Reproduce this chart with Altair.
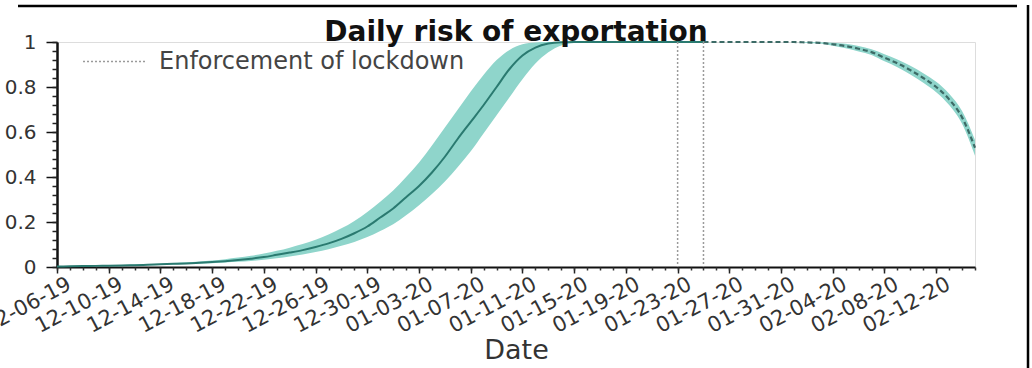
import altair as alt
import pandas as pd

# ---- data ----
dates = [d.strftime("%Y-%m-%d") for d in pd.date_range("2019-12-06", "2020-02-15", freq="D")]

mean = [0.002, 0.003, 0.004, 0.005, 0.006, 0.007, 0.008, 0.010, 0.012, 0.014,
        0.016, 0.019, 0.022, 0.026, 0.031, 0.037, 0.044, 0.054, 0.064, 0.075,
        0.089, 0.105, 0.125, 0.150, 0.180, 0.22, 0.26, 0.31, 0.36, 0.42,
        0.49, 0.57, 0.645, 0.72, 0.80, 0.88, 0.94, 0.975, 0.993, 0.999,
        1.0, 1.0, 1.0, 1.0, 1.0, 1.0, 1.0, 1.0, 1.0, 1.0,
        1.0, 1.0, 1.0, 1.0, 1.0, 1.0, 1.0, 1.0,
        0.998, 0.996, 0.99, 0.982, 0.97, 0.955, 0.93, 0.905, 0.875, 0.84,
        0.80, 0.745, 0.665, 0.53]

upper = [0.003, 0.004, 0.005, 0.006, 0.008, 0.009, 0.011, 0.013, 0.015, 0.018,
         0.021, 0.025, 0.029, 0.035, 0.042, 0.050, 0.060, 0.072, 0.086, 0.102,
         0.121, 0.145, 0.172, 0.205, 0.245, 0.29, 0.34, 0.40, 0.465, 0.54,
         0.62, 0.70, 0.78, 0.855, 0.92, 0.965, 0.99, 0.998, 1.0, 1.0,
         1.0, 1.0, 1.0, 1.0, 1.0, 1.0, 1.0, 1.0, 1.0, 1.0,
         1.0, 1.0, 1.0, 1.0, 1.0, 1.0, 1.0, 1.0,
         1.0, 0.999, 0.997, 0.992, 0.982, 0.968, 0.946, 0.922, 0.894, 0.861,
         0.823, 0.77, 0.693, 0.565]

lower = [0.001, 0.002, 0.003, 0.004, 0.005, 0.006, 0.007, 0.008, 0.009, 0.011,
         0.013, 0.015, 0.017, 0.020, 0.023, 0.027, 0.032, 0.039, 0.047, 0.056,
         0.067, 0.079, 0.094, 0.111, 0.133, 0.16, 0.19, 0.23, 0.275, 0.325,
         0.38, 0.445, 0.515, 0.595, 0.675, 0.755, 0.835, 0.905, 0.955, 0.985,
         0.996, 0.999, 1.0, 1.0, 1.0, 1.0, 1.0, 1.0, 1.0, 1.0,
         1.0, 1.0, 1.0, 1.0, 1.0, 1.0, 1.0, 1.0,
         0.996, 0.993, 0.983, 0.972, 0.958, 0.942, 0.914, 0.888, 0.856, 0.819,
         0.777, 0.72, 0.637, 0.495]

lockdown_dates = ["2020-01-23", "2020-01-25"]
lockdown_label = "Enforcement of lockdown"
projection_start = 50  # index of 2020-01-25
major_ticks = dates[::4]
y_major = [0, 0.2, 0.4, 0.6, 0.8, 1]
y_minor = [round(i * 0.04, 2) for i in range(26)]

FONT = "DejaVu Sans"


def ms(d):
    return int(pd.Timestamp(d, tz="UTC").timestamp() * 1000)


df = pd.DataFrame({"date": dates, "mean": mean, "lower": lower,
                   "upper": upper, "idx": list(range(len(dates)))})
lock_df = pd.DataFrame({"date": lockdown_dates, "label": [lockdown_label] * len(lockdown_dates)})

x_scale = alt.Scale(type="utc", domain=[ms(dates[0]), ms(dates[-1])])
y_scale = alt.Scale(domain=[0, 1])

x_major_axis = alt.Axis(values=[ms(d) for d in major_ticks],
                        labelExpr="utcFormat(datum.value, '%m-%d-%y')",
                        labelAngle=-28, labelAlign="right", labelBaseline="top",
                        labelFont=FONT, labelFontSize=21, labelColor="#333", labelOffset=7,
                        tickSize=6, tickColor="#222", tickWidth=1.5,
                        domainColor="#111", domainWidth=2, grid=False,
                        title="Date", titleFont=FONT, titleFontSize=27, titleFontWeight="normal",
                        titleColor="#333", titlePadding=1, labelPadding=0, orient="bottom",
                        labelOverlap=False, labelBound=False)
x_minor_axis = alt.Axis(values=[ms(d) for d in dates], labels=False, domain=False, grid=False,
                        tickSize=3, tickColor="#333", tickWidth=1.5, title=None, orient="bottom")
y_major_axis = alt.Axis(values=y_major, format="~g", labelFont=FONT, labelFontSize=20,
                        labelColor="#333", tickSize=11, tickColor="#111", tickWidth=1.5,
                        domainColor="#111", domainWidth=2.5, grid=False, title=None,
                        labelPadding=10, orient="left")
y_minor_axis = alt.Axis(values=y_minor, labels=False, domain=False, grid=False,
                        tickSize=5, tickColor="#222", tickWidth=1.5, title=None, orient="left")

band = alt.Chart(df).mark_area(color="#8fd5cb", opacity=1, interpolate="monotone").encode(
    x=alt.X("date:T", scale=x_scale, axis=x_major_axis),
    y=alt.Y("lower:Q", scale=y_scale, axis=y_major_axis),
    y2="upper:Q",
)

observed = alt.Chart(df).transform_filter(alt.datum.idx <= projection_start).mark_line(
    color="#2a7a70", strokeWidth=2, interpolate="monotone").encode(
    x=alt.X("date:T", scale=x_scale, axis=x_minor_axis),
    y=alt.Y("mean:Q", scale=y_scale, axis=y_minor_axis),
)

projected = alt.Chart(df).transform_filter(alt.datum.idx >= projection_start).mark_line(
    color="#3c6b66", strokeWidth=2.2, strokeDash=[5, 3], interpolate="monotone").encode(
    x=alt.X("date:T", scale=x_scale, axis=None),
    y=alt.Y("mean:Q", scale=y_scale, axis=None),
)

lock_rules = alt.Chart(lock_df).mark_rule(color="#9a9a9a", strokeWidth=1.5).encode(
    x=alt.X("date:T", scale=x_scale, axis=None),
    strokeDash=alt.StrokeDash("label:N",
                              scale=alt.Scale(domain=[lockdown_label], range=[[2, 2]]),
                              legend=alt.Legend(title=None, orient="none", legendX=25, legendY=-13,
                                                symbolType="stroke", symbolSize=3969,
                                                symbolStrokeColor="#9a9a9a", symbolStrokeWidth=1.5,
                                                symbolDash=[4, 3], labelLimit=0,
                                                labelFont=FONT, labelFontSize=24, labelColor="#444",
                                                labelOffset=12, padding=0)),
)

frame = alt.Chart(alt.Data(values=[{}]))
top_line = frame.mark_rule(color="#000", strokeWidth=2.5).encode(
    x=alt.value(-39), x2=alt.value(960), y=alt.value(-36))
right_line = frame.mark_rule(color="#000", strokeWidth=2.5).encode(
    x=alt.value(971), y=alt.value(-37), y2=alt.value(326))

chart = alt.layer(band, observed, projected, lock_rules, top_line, right_line).resolve_axis(
    x="independent", y="independent"
).properties(
    width=918, height=225,
    title=alt.TitleParams("Daily risk of exportation", font=FONT, fontSize=28, fontWeight="bold",
                          color="#111", anchor="middle", offset=-43),
    autosize=alt.AutoSizeParams(type="none"),
    padding={"left": 57, "top": 42, "right": 57, "bottom": 101},
).configure_view(stroke=None).configure(background="white")

chart.save("out.html", embed_options={"renderer": "svg", "actions": False})
